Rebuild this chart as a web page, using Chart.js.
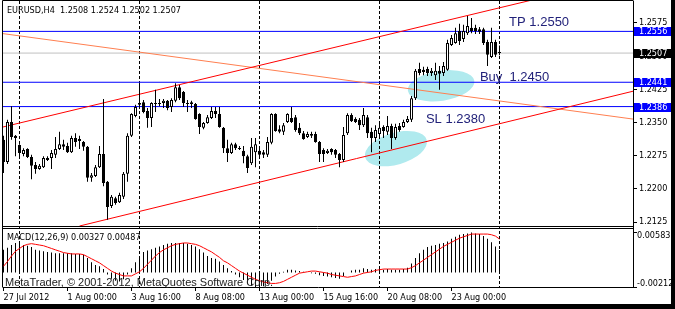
<!DOCTYPE html>
<html lang="en">
<head>
<meta charset="UTF-8">
<title>EURUSD,H4</title>
<style>
  body { margin: 0; background: #fff; overflow: hidden; }
  .wrap { width: 675px; height: 309px; position: relative; }
</style>
</head>
<body>
<div class="wrap"><canvas id="chart"></canvas></div>
<script src="https://cdn.jsdelivr.net/npm/chart.js@4.4.0/dist/chart.umd.min.js"></script>
<script>
// H4 bars, index 0 = first bar on screen
const barOpen = [
  1.2311,1.2261,1.2351,1.2320,1.2299,1.2279,1.2290,1.2272,1.2254,1.2245,
  1.2249,1.2270,1.2270,1.2277,1.2290,1.2301,1.2297,1.2283,1.2315,1.2313,
  1.2306,1.2295,1.2225,1.2229,1.2249,1.2279,1.2216,1.2161,1.2179,1.2170,
  1.2182,1.2234,1.2320,1.2365,1.2394,1.2396,1.2376,1.2360,1.2394,1.2394,
  1.2394,1.2399,1.2385,1.2399,1.2430,1.2419,1.2394,1.2396,1.2392,1.2369,
  1.2338,1.2349,1.2360,1.2376,1.2369,1.2338,1.2292,1.2281,1.2301,1.2292,
  1.2286,1.2274,1.2258,1.2283,1.2286,1.2283,1.2277,1.2304,1.2369,1.2335,
  1.2329,1.2351,1.2360,1.2362,1.2338,1.2326,1.2317,1.2324,1.2324,1.2306,
  1.2288,1.2281,1.2290,1.2288,1.2279,1.2265,1.2326,1.2367,1.2358,1.2356,
  1.2344,1.2362,1.2329,1.2315,1.2324,1.2340,1.2329,1.2342,1.2315,1.2342,
  1.2340,1.2351,1.2356,1.2405,1.2471,1.2469,1.2471,1.2462,1.2457,1.2467,
  1.2462,1.2469,1.2525,1.2530,1.2557,1.2539,1.2552,1.2564,1.2564,1.2561,
  1.2561,1.2532,1.2498,1.2532,1.2508
];
const barHigh = [
  1.2320,1.2356,1.2387,1.2322,1.2301,1.2292,1.2292,1.2277,1.2261,1.2256,
  1.2274,1.2274,1.2288,1.2317,1.2329,1.2311,1.2304,1.2320,1.2326,1.2320,
  1.2308,1.2297,1.2236,1.2254,1.2297,1.2403,1.2218,1.2186,1.2182,1.2191,
  1.2238,1.2326,1.2371,1.2390,1.2437,1.2401,1.2383,1.2396,1.2424,1.2403,
  1.2403,1.2401,1.2405,1.2439,1.2435,1.2421,1.2401,1.2399,1.2394,1.2371,
  1.2351,1.2367,1.2385,1.2385,1.2385,1.2340,1.2311,1.2304,1.2304,1.2297,
  1.2297,1.2277,1.2315,1.2315,1.2290,1.2288,1.2317,1.2371,1.2371,1.2344,
  1.2349,1.2371,1.2385,1.2367,1.2349,1.2331,1.2329,1.2329,1.2329,1.2308,
  1.2292,1.2290,1.2292,1.2290,1.2281,1.2340,1.2371,1.2371,1.2362,1.2360,
  1.2383,1.2367,1.2338,1.2344,1.2349,1.2344,1.2365,1.2347,1.2347,1.2349,
  1.2356,1.2365,1.2410,1.2471,1.2485,1.2476,1.2476,1.2473,1.2485,1.2478,
  1.2487,1.2537,1.2548,1.2564,1.2573,1.2571,1.2591,1.2586,1.2571,1.2566,
  1.2564,1.2537,1.2564,1.2537,1.2524
];
const barLow = [
  1.2236,1.2256,1.2311,1.2274,1.2272,1.2274,1.2270,1.2222,1.2234,1.2243,
  1.2247,1.2263,1.2245,1.2270,1.2288,1.2288,1.2281,1.2281,1.2295,1.2290,
  1.2286,1.2216,1.2216,1.2227,1.2247,1.2206,1.2130,1.2157,1.2164,1.2168,
  1.2177,1.2216,1.2317,1.2362,1.2385,1.2371,1.2338,1.2340,1.2374,1.2387,
  1.2383,1.2378,1.2374,1.2396,1.2401,1.2385,1.2374,1.2383,1.2356,1.2324,
  1.2335,1.2347,1.2358,1.2360,1.2338,1.2281,1.2261,1.2279,1.2288,1.2288,
  1.2258,1.2236,1.2254,1.2249,1.2270,1.2270,1.2272,1.2301,1.2329,1.2326,
  1.2322,1.2349,1.2349,1.2329,1.2322,1.2311,1.2315,1.2315,1.2304,1.2261,
  1.2261,1.2279,1.2277,1.2270,1.2249,1.2261,1.2322,1.2351,1.2349,1.2333,
  1.2340,1.2315,1.2283,1.2306,1.2317,1.2315,1.2322,1.2290,1.2311,1.2329,
  1.2338,1.2349,1.2351,1.2401,1.2457,1.2457,1.2455,1.2455,1.2446,1.2424,
  1.2455,1.2467,1.2523,1.2528,1.2525,1.2532,1.2548,1.2552,1.2550,1.2550,
  1.2525,1.2478,1.2496,1.2498,1.2502
];
const barClose = [
  1.2261,1.2351,1.2317,1.2315,1.2281,1.2288,1.2272,1.2252,1.2245,1.2252,
  1.2270,1.2265,1.2281,1.2290,1.2301,1.2295,1.2283,1.2315,1.2306,1.2308,
  1.2295,1.2225,1.2231,1.2249,1.2279,1.2213,1.2159,1.2182,1.2168,1.2186,
  1.2234,1.2320,1.2369,1.2385,1.2390,1.2374,1.2360,1.2394,1.2392,1.2392,
  1.2399,1.2383,1.2401,1.2430,1.2405,1.2394,1.2392,1.2392,1.2358,1.2340,
  1.2349,1.2362,1.2376,1.2369,1.2340,1.2292,1.2281,1.2301,1.2292,1.2290,
  1.2274,1.2247,1.2295,1.2301,1.2277,1.2277,1.2306,1.2369,1.2331,1.2329,
  1.2344,1.2369,1.2351,1.2333,1.2326,1.2313,1.2324,1.2320,1.2306,1.2279,
  1.2279,1.2286,1.2283,1.2277,1.2265,1.2322,1.2367,1.2353,1.2351,1.2344,
  1.2367,1.2326,1.2315,1.2333,1.2338,1.2331,1.2342,1.2315,1.2340,1.2333,
  1.2351,1.2358,1.2405,1.2467,1.2462,1.2464,1.2462,1.2467,1.2467,1.2460,
  1.2478,1.2530,1.2541,1.2552,1.2534,1.2557,1.2568,1.2557,1.2557,1.2555,
  1.2530,1.2503,1.2532,1.2503,1.2507
];

// MACD(12,26,9): histogram (main) and signal line
const macdMain = [
  0.0033,0.0036,0.0040,0.0043,0.0042,0.0040,0.0039,0.0037,0.0033,0.0032,
  0.0031,0.0030,0.0029,0.0028,0.0028,0.0028,0.0028,0.0028,0.0027,0.0027,
  0.0026,0.0021,0.0015,0.0011,0.0009,0.0005,-0.0003,-0.0009,-0.0012,-0.0013,
  -0.0010,-0.0003,0.0006,0.0015,0.0024,0.0030,0.0032,0.0034,0.0036,0.0038,
  0.0040,0.0042,0.0043,0.0043,0.0043,0.0043,0.0042,0.0040,0.0038,0.0034,
  0.0029,0.0024,0.0021,0.0020,0.0016,0.0011,0.0006,0.0002,-0.0003,-0.0007,
  -0.0011,-0.0016,-0.0019,-0.00212,-0.0021,-0.0020,-0.0017,-0.0012,-0.0006,-0.0002,
  0.0001,0.0004,0.0004,0.0003,0.0002,0.0001,0.0000,-0.0001,-0.0002,-0.0004,
  -0.0005,-0.0006,-0.0007,-0.0008,-0.0009,-0.0005,0.0000,0.0003,0.0004,0.0004,
  0.0006,0.0005,0.0004,0.0005,0.0005,0.0004,0.0005,0.0004,0.0004,0.0004,
  0.0005,0.0007,0.0013,0.0021,0.0028,0.0033,0.0037,0.0039,0.0040,0.0042,
  0.0043,0.0045,0.0049,0.0052,0.0055,0.0056,0.0057,0.00583,0.0057,0.0056,
  0.0053,0.0049,0.0044,0.0038,0.00327
];
const macdSignal = [
  0.0009,0.0016,0.0024,0.0031,0.0035,0.0039,0.0041,0.0042,0.0041,0.0040,
  0.0039,0.0037,0.0035,0.0033,0.0031,0.0029,0.0028,0.0027,0.0027,0.0027,
  0.0026,0.0023,0.0020,0.0017,0.0014,0.0010,0.0006,0.0002,-0.0001,-0.0003,
  -0.0005,-0.0005,-0.0005,-0.0002,0.0001,0.0006,0.0012,0.0018,0.0024,0.0029,
  0.0033,0.0036,0.0039,0.0041,0.0042,0.0043,0.0043,0.0042,0.0041,0.0039,
  0.0036,0.0033,0.0030,0.0026,0.0022,0.0017,0.0014,0.0010,0.0006,0.0002,
  -0.0001,-0.0004,-0.0007,-0.0010,-0.0012,-0.0014,-0.0015,-0.0016,-0.0016,-0.0015,
  -0.0013,-0.0010,-0.0007,-0.0004,-0.0001,0.0000,0.0001,0.0002,0.0002,0.0001,
  0.0000,-0.0001,-0.0003,-0.0004,-0.0005,-0.0006,-0.0007,-0.0006,-0.0005,-0.0003,
  -0.0001,0.0000,0.0001,0.0003,0.0004,0.0005,0.0005,0.0005,0.0005,0.0005,
  0.0005,0.0005,0.0007,0.0010,0.0014,0.0018,0.0022,0.0026,0.0030,0.0034,
  0.0038,0.0041,0.0044,0.0047,0.0050,0.0052,0.0054,0.0056,0.0056,0.0056,
  0.0056,0.0056,0.0055,0.0053,0.00487
];

// axes
const timeTickBars = [0, 16, 32, 48, 64, 80, 96, 112];
const timeLabels = ['27 Jul 2012', '1 Aug 00:00', '3 Aug 16:00', '8 Aug 08:00',
                    '13 Aug 00:00', '15 Aug 16:00', '20 Aug 08:00', '23 Aug 00:00'];
const gridBars = [4, 34, 64, 94, 124];
const priceTicks = [1.2125, 1.2200, 1.2275, 1.2350, 1.2425, 1.2500, 1.2575];
const macdTicks = [-0.00212, 0, 0.00583];

// chart objects
const levelPrices = [1.2556, 1.2441, 1.2386];          // blue horizontal lines
const channelTop = [[-1, 1.2338], [157.5, 1.2682]];    // [bar, price]
const channelBottom = [[19, 1.2116], [157.5, 1.2421]];
const orangeLine = [[-1, 1.2552], [158, 1.2357]];
const noteText = ['TP 1.2550', 'Buy  1.2450', 'SL 1.2380'];
const noteBar = [126.4, 119.1, 105.6];
const notePrice = [1.2577, 1.2453, 1.2358];
const zoneBar = [109.4, 98.1];
const zonePrice = [1.2433, 1.2291];

const smallFont = { family: "'DejaVu Sans Condensed', 'DejaVu Sans', sans-serif", size: 9 };
const fontStr = "9px 'DejaVu Sans Condensed', 'DejaVu Sans', sans-serif";

const toPts = arr => arr.map(p => ({ x: p[0], y: p[1] }));
const flatLine = v => [{ x: -1, y: v }, { x: 159, y: v }];

const wickData = barHigh.map((h, i) => ({ x: i, y: [barLow[i], h] }));
const bodyData = barOpen.map((o, i) => ({ x: i, y: [o, barClose[i]] }));
const histData = macdMain.map((v, i) => ({ x: i, y: v }));
const signalData = macdSignal.map((v, i) => ({ x: i, y: v }));
const lastBar = barClose.length - 1;

const lineSet = (data, color, order) => ({
  type: 'line', data, yAxisID: 'y', borderColor: color, borderWidth: 1,
  pointRadius: 0, fill: false, order
});

// no label overhang padding, the panes must fill the plot box exactly
const noPad = s => { s.paddingTop = 0; s.paddingBottom = 0; s.paddingLeft = 0; s.paddingRight = 0; };

const mtDecor = {
  id: 'mtDecor',
  beforeDraw(chart) {
    const { ctx, scales: { x, y } } = chart;
    // cyan zones under everything
    const halfBars = [8.4, 8.0];
    const halfPrice = [0.0034, 0.0036];
    const tilt = [-0.15, -0.28];
    ctx.save();
    ctx.beginPath();
    ctx.rect(x.left, y.top, x.right - x.left, y.bottom - y.top);
    ctx.clip();
    ctx.fillStyle = '#b0eaee';
    zoneBar.forEach((b, k) => {
      const cx = x.getPixelForValue(b);
      const cy = y.getPixelForValue(zonePrice[k]);
      const rx = x.getPixelForValue(b + halfBars[k]) - cx;
      const ry = y.getPixelForValue(zonePrice[k] - halfPrice[k]) - cy;
      ctx.beginPath();
      ctx.ellipse(cx, cy, rx, ry, tilt[k], 0, Math.PI * 2);
      ctx.fill();
    });
    ctx.restore();
  },
  afterDraw(chart) {
    const { ctx, scales: { x, y, y2 } } = chart;
    ctx.save();
    // frame and pane separator
    ctx.strokeStyle = '#000';
    ctx.lineWidth = 1;
    ctx.beginPath();
    ctx.moveTo(2.5, 0.5); ctx.lineTo(x.right + 0.5, 0.5);
    ctx.moveTo(2.5, 0.5); ctx.lineTo(2.5, y2.bottom + 0.5);
    ctx.moveTo(2.5, y.bottom - 0.5); ctx.lineTo(x.right, y.bottom - 0.5);
    ctx.moveTo(2.5, y2.top + 1.5); ctx.lineTo(x.right, y2.top + 1.5);
    ctx.stroke();

    // price labels of the horizontal lines
    ctx.font = fontStr;
    ctx.textBaseline = 'middle';
    ctx.textAlign = 'left';
    const tag = (v, bg) => {
      const py = Math.round(y.getPixelForValue(v));
      ctx.fillStyle = bg;
      ctx.fillRect(x.right + 1, py - 4, 37, 9);
      ctx.fillStyle = '#fff';
      ctx.fillText(v.toFixed(4), x.right + 6, py + 0.5);
    };
    levelPrices.forEach(v => tag(v, '#0000ff'));
    tag(barClose[lastBar], '#000');

    // window captions
    ctx.fillStyle = '#000';
    ctx.fillText('EURUSD,H4  ' + [barOpen[lastBar], barHigh[lastBar], barLow[lastBar], barClose[lastBar]]
      .map(v => v.toFixed(4)).join(' '), 7, 11);
    ctx.fillText('MACD(12,26,9) ' + macdMain[lastBar].toFixed(5) + ' ' + macdSignal[lastBar].toFixed(5), 7, 238);
    ctx.fillStyle = '#222';
    ctx.font = "11px 'Liberation Sans', Arial, sans-serif";
    ctx.textBaseline = 'alphabetic';
    ctx.fillText('MetaTrader, \u00a9 2001-2012, MetaQuotes Software Corp.', 5, 286);

    // text objects
    ctx.font = "13px 'Liberation Sans', Arial, sans-serif";
    ctx.textBaseline = 'middle';
    ctx.fillStyle = '#22227a';
    noteText.forEach((t, k) => {
      ctx.fillText(t, x.getPixelForValue(noteBar[k]), y.getPixelForValue(notePrice[k]));
    });

    // outer dark border
    ctx.fillStyle = '#000';
    ctx.fillRect(671, 0, 4, 309);
    ctx.fillRect(0, 304, 675, 5);
    ctx.restore();
  }
};

new Chart(document.getElementById('chart'), {
  type: 'line',
  data: {
    datasets: [
      {
        type: 'bar', data: bodyData, yAxisID: 'y', grouped: false, barThickness: 3, minBarLength: 1,
        backgroundColor: c => barClose[c.dataIndex] >= barOpen[c.dataIndex] ? '#fff' : '#000',
        borderColor: '#000', borderWidth: 1, borderSkipped: false, inflateAmount: 0, order: 1
      },
      {
        type: 'bar', data: wickData, yAxisID: 'y', grouped: false, barThickness: 1,
        backgroundColor: '#000', borderWidth: 0, inflateAmount: 0, order: 2
      },
      lineSet(toPts(channelTop), '#ff0000', 3),
      lineSet(toPts(channelBottom), '#ff0000', 3),
      lineSet(toPts(orangeLine), '#ff7f50', 4),
      ...levelPrices.map(v => lineSet(flatLine(v), '#0000ff', 5)),
      lineSet(flatLine(barClose[lastBar]), '#c0c0c0', 6),
      {
        type: 'line', data: signalData, yAxisID: 'y2', borderColor: '#ff0000', borderWidth: 1,
        pointRadius: 0, fill: false, order: 7
      },
      {
        type: 'bar', data: histData, yAxisID: 'y2', grouped: false, barThickness: 1,
        backgroundColor: '#000', borderWidth: 0, inflateAmount: 0, order: 8
      }
    ]
  },
  options: {
    responsive: true,
    maintainAspectRatio: false,
    animation: false,
    events: [],
    layout: { padding: { left: 3, top: 1, right: 4, bottom: 5 } },
    plugins: { legend: { display: false }, tooltip: { enabled: false } },
    scales: {
      x: {
        type: 'linear', position: 'bottom', min: -0.125, max: 157.375, offset: false,
        grid: { drawOnChartArea: false, drawTicks: true, tickLength: 4, color: '#000', offset: false },
        border: { color: '#000' },
        ticks: {
          autoSkip: false, maxRotation: 0, minRotation: 0, align: 'start', padding: 1,
          color: '#000', font: smallFont, callback: (v, i) => timeLabels[i]
        },
        afterBuildTicks: s => { s.ticks = timeTickBars.map(v => ({ value: v })); },
        afterFit: s => { s.height = 17; noPad(s); }
      },
      xg: {
        type: 'linear', position: 'bottom', min: -0.125, max: 157.375, offset: false,
        grid: { drawOnChartArea: true, drawTicks: false, color: '#000', lineWidth: 1, offset: false },
        border: { display: false, dash: [3, 2] },
        ticks: { display: false },
        afterBuildTicks: s => { s.ticks = gridBars.map(v => ({ value: v })); },
        afterFit: s => { s.height = 0; noPad(s); }
      },
      y: {
        type: 'linear', position: 'right', stack: 'panes', stackWeight: 226,
        min: 1.21138, max: 1.26247,
        grid: { drawOnChartArea: false, drawTicks: true, tickLength: 4, color: '#000' },
        border: { color: '#000' },
        ticks: { padding: 2, color: '#000', font: smallFont, callback: v => v.toFixed(4) },
        afterBuildTicks: s => { s.ticks = priceTicks.map(v => ({ value: v })); },
        afterFit: s => { s.width = 38; noPad(s); }
      },
      y2: {
        type: 'linear', position: 'right', stack: 'panes', stackWeight: 60,
        min: -0.00212, max: 0.00663,
        grid: { drawOnChartArea: false, drawTicks: true, tickLength: 4, color: '#000' },
        border: { color: '#000' },
        ticks: {
          padding: 0, color: '#000', font: { ...smallFont, lineHeight: 0.8 },
          callback: (v, i) => {
            const t = v === 0 ? '0.00' : v.toFixed(5);
            if (i === 0) return [t, ''];
            if (i === macdTicks.length - 1) return ['', t];
            return t;
          }
        },
        afterBuildTicks: s => { s.ticks = macdTicks.map(v => ({ value: v })); },
        afterFit: s => { s.width = 38; noPad(s); }
      }
    }
  },
  plugins: [mtDecor]
});
</script>
</body>
</html>
